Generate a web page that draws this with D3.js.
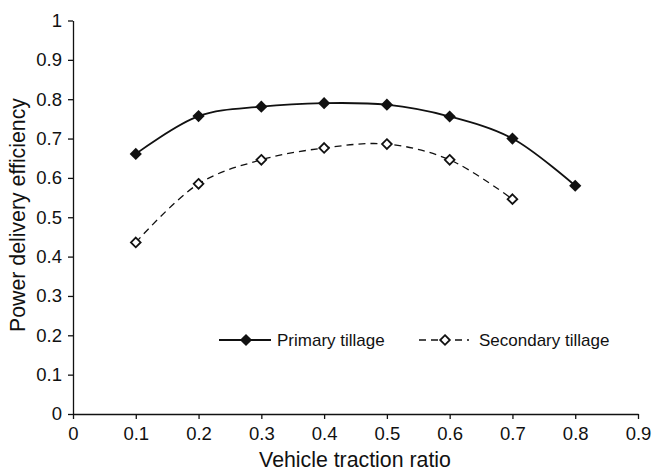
<!DOCTYPE html>
<html>
<head>
<meta charset="utf-8">
<script src="https://cdn.jsdelivr.net/npm/d3@7"></script>
<style>
  html, body { margin: 0; padding: 0; background: #fff; }
  svg { display: block; font-family: "Liberation Sans", Arial, Helvetica, sans-serif; }
</style>
</head>
<body>
<svg id="chart" width="654" height="473"></svg>
<script>
const xPrimary = [0.1, 0.2, 0.3, 0.4, 0.5, 0.6, 0.7, 0.8];
const primaryValues = [0.661, 0.757, 0.781, 0.790, 0.786, 0.756, 0.700, 0.580];
const xSecondary = [0.1, 0.2, 0.3, 0.4, 0.5, 0.6, 0.7];
const secondaryValues = [0.436, 0.585, 0.646, 0.676, 0.686, 0.646, 0.546];
const xTicks = [0, 0.1, 0.2, 0.3, 0.4, 0.5, 0.6, 0.7, 0.8, 0.9];
const yTicks = [0, 0.1, 0.2, 0.3, 0.4, 0.5, 0.6, 0.7, 0.8, 0.9, 1];
const seriesNames = ["Primary tillage", "Secondary tillage"];
const xTitle = "Vehicle traction ratio";
const yTitle = "Power delivery efficiency";

const ink = "#111";
const svg = d3.select("#chart");
const mLeft = 73, mRight = 638, mTop = 20.5, mBottom = 414;

const x = d3.scaleLinear().domain([0, 0.9]).range([mLeft, mRight]);
const y = d3.scaleLinear().domain([0, 1]).range([mBottom, mTop]);

const fmt = d => (d === 0 ? "0" : d === 1 ? "1" : d3.format(".1f")(d));

// X axis
const gx = svg.append("g").attr("transform", `translate(0,${mBottom})`)
  .call(d3.axisBottom(x).tickValues(xTicks).tickFormat(fmt).tickSize(5).tickPadding(8).tickSizeOuter(0));
// Y axis
const gy = svg.append("g").attr("transform", `translate(${mLeft},0)`)
  .call(d3.axisLeft(y).tickValues(yTicks).tickFormat(fmt).tickSize(5).tickPadding(6).tickSizeOuter(0));

[gx, gy].forEach(g => {
  g.select(".domain").attr("stroke", ink).attr("stroke-width", 1.3);
  g.selectAll(".tick line").attr("stroke", ink).attr("stroke-width", 1.3);
  g.selectAll(".tick text").attr("fill", ink).style("font-size", "18.5px")
    .style("font-family", '"Liberation Sans", Arial, sans-serif');
});

// Titles
svg.append("text").attr("x", 355).attr("y", 467)
  .attr("text-anchor", "middle").attr("fill", ink).style("font-size", "21.3px").text(xTitle);
svg.append("text").attr("transform", `translate(25,215) rotate(-90)`)
  .attr("text-anchor", "middle").attr("fill", ink).style("font-size", "21.3px").text(yTitle);

const diamond = d3.symbol().type(d3.symbolDiamond2).size(95);
const diamondOpen = d3.symbol().type(d3.symbolDiamond2).size(60);

const primaryData = xPrimary.map((d, i) => [d, primaryValues[i]]);
const secondaryData = xSecondary.map((d, i) => [d, secondaryValues[i]]);
const line = d3.line().x(d => x(d[0])).y(d => y(d[1])).curve(d3.curveCatmullRom.alpha(0.5));

svg.append("path").datum(primaryData).attr("d", line)
  .attr("fill", "none").attr("stroke", ink).attr("stroke-width", 1.8);
svg.append("path").datum(secondaryData).attr("d", line)
  .attr("fill", "none").attr("stroke", ink).attr("stroke-width", 1.3).attr("stroke-dasharray", "7,5");

svg.selectAll(".p1").data(primaryData).join("path").attr("class", "p1")
  .attr("transform", d => `translate(${x(d[0])},${y(d[1])})`)
  .attr("d", diamond).attr("fill", ink);
svg.selectAll(".p2").data(secondaryData).join("path").attr("class", "p2")
  .attr("transform", d => `translate(${x(d[0])},${y(d[1])})`)
  .attr("d", diamondOpen).attr("fill", "#fff").attr("stroke", ink).attr("stroke-width", 1.8);

// Legend
const ly = 340;
const lg = svg.append("g");
lg.append("line").attr("x1", 219).attr("x2", 271).attr("y1", ly).attr("y2", ly).attr("stroke", ink).attr("stroke-width", 1.8);
lg.append("path").attr("transform", `translate(246,${ly})`).attr("d", diamond).attr("fill", ink);
lg.append("text").attr("x", 277).attr("y", ly + 6).attr("fill", ink).style("font-size", "17px").text(seriesNames[0]);
lg.append("line").attr("x1", 419).attr("x2", 469).attr("y1", ly).attr("y2", ly).attr("stroke", ink).attr("stroke-width", 1.3).attr("stroke-dasharray", "7,5");
lg.append("path").attr("transform", `translate(445,${ly})`).attr("d", diamondOpen)
  .attr("fill", "#fff").attr("stroke", ink).attr("stroke-width", 1.8);
lg.append("text").attr("x", 479).attr("y", ly + 6).attr("fill", ink).style("font-size", "17px").text(seriesNames[1]);
</script>
</body>
</html>
